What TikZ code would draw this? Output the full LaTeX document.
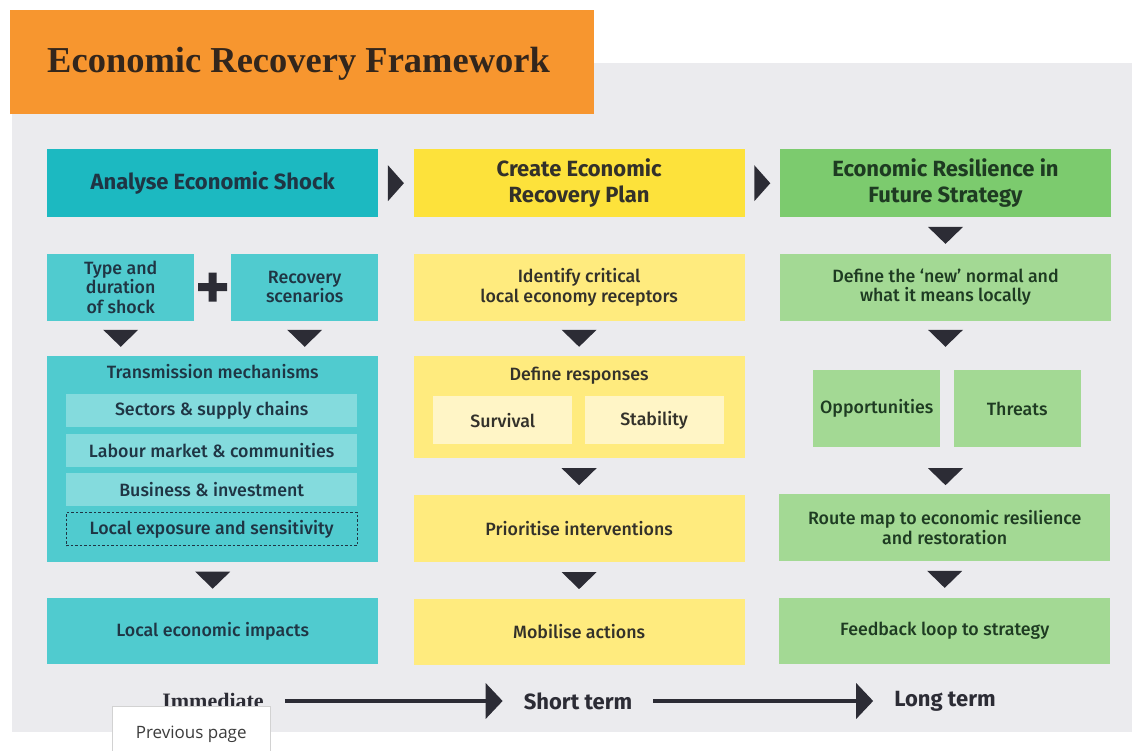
\documentclass[tikz,border=0pt]{standalone}
\usepackage{fontspec}
\setmainfont{Fira Sans}
\newfontfamily\medfont{Fira Sans Medium}
\newfontfamily\titlefont{Liberation Serif}
\newfontfamily\tipfont{Open Sans}
\usetikzlibrary{arrows.meta, positioning, calc}

\definecolor{orangeC}{HTML}{F7962F}
\definecolor{panelC}{HTML}{EBEBEE}
\definecolor{titleC}{HTML}{33261C}
\definecolor{triC}{HTML}{2C2C35}
\definecolor{tealH}{HTML}{1CB9C1}
\definecolor{tealM}{HTML}{50CBCF}
\definecolor{tealL}{HTML}{84DBDD}
\definecolor{tealT}{HTML}{1F3544}
\definecolor{yelH}{HTML}{FDE23B}
\definecolor{yelM}{HTML}{FFEB7E}
\definecolor{yelL}{HTML}{FFF5C6}
\definecolor{yelT}{HTML}{33312A}
\definecolor{grnH}{HTML}{7CCB6E}
\definecolor{grnM}{HTML}{A3D994}
\definecolor{grnT}{HTML}{1E3B22}
\definecolor{tipB}{HTML}{D2D2D2}
\definecolor{tipT}{HTML}{3C3C3C}

\newcommand\hdfont{\bfseries\fontsize{22}{26}\selectfont}
\newcommand\bdfont{\medfont\fontsize{17.8}{19.5}\selectfont}

\tikzset{>=Triangle}

\begin{document}
\begin{tikzpicture}[x=1pt, y=-1pt,
			box/.style={rectangle, inner sep=0pt, align=center,
				font=\bdfont, minimum width=331pt},
			head/.style={box, font=\hdfont, minimum height=68pt},
			row/.style={box, minimum height=67pt},
			half/.style={box, minimum width=147pt, minimum height=67pt},
			strip/.style={box, minimum width=291pt, minimum height=33pt},
			cell/.style={box, minimum width=139pt, minimum height=48pt},
			sq/.style={box, minimum width=127pt, minimum height=77pt},
			teal/.style={fill=tealM, text=tealT},
			yel/.style={fill=yelM, text=yelT},
			grn/.style={fill=grnM, text=grnT},
			time/.style={inner sep=0pt, font=\bfseries\fontsize{22}{26}\selectfont,
				text=triC},
			timeline/.style={line width=4pt, draw=triC,
				-{Triangle[width=35pt, length=17pt]}, shorten <=21pt, shorten >=21pt}]

		% page and panel
		\fill[white] (0,0) rectangle (1132,751);
		\useasboundingbox (0,0) rectangle (1132,751);
		\fill[panelC] (12,63) rectangle (1132,732);

		% title
		\fill[orangeC] (10,10) rectangle (594,114);
		\node[anchor=base west, inner sep=0pt, text=titleC,
			font=\titlefont\bfseries\fontsize{36.5}{40}\selectfont] (title) at (47,73)
			{Economic Recovery Framework};

		% analyse column
		\node[head, fill=tealH, text=tealT, anchor=north west] (shock) at (47,149)
			{Analyse Economic Shock};
		\node[half, teal, below right=36pt and 0pt of shock.south west] (typ)
			{Type and\\duration\\of shock};
		\node[half, teal, below left=36pt and 0pt of shock.south east] (rec)
			{Recovery\\scenarios};
		\node[box, teal, minimum height=206pt,
			below right=35pt and 0pt of typ.south west] (trans) {};
		\node[box, text=tealT, minimum width=0pt] (transT) at ($(trans.north)+(0,16)$)
			{Transmission mechanisms};
		\node[strip, fill=tealL, text=tealT, anchor=north west] (sect) at (66,394)
			{Sectors \& supply chains};
		\node[strip, fill=tealL, text=tealT, below=6pt of sect] (lab)
			{Labour market \& communities};
		\node[strip, fill=tealL, text=tealT, below=6pt of lab] (bus)
			{Business \& investment};
		\node[strip, text=tealT, draw=tealT, line width=1pt,
			dash pattern=on 2.5pt off 2pt, below=6pt of bus] (expo)
			{Local exposure and sensitivity};
		\node[box, teal, minimum height=66pt,
			below right=36pt and 0pt of trans.south west] (impact)
			{Local economic impacts};

		% plan column
		\node[head, fill=yelH, text=yelT, right=35pt of shock] (plan)
			{Create Economic\\Recovery Plan};
		\node[row, yel, below=36pt of plan] (ident)
			{Identify critical\\local economy receptors};
		\node[box, yel, minimum height=102pt, below=35pt of ident] (resp) {};
		\node[box, text=yelT, minimum width=0pt] (respT) at ($(resp.north)+(0,20)$)
			{Define responses};
		\node[cell, fill=yelL, text=yelT, anchor=north west] (surv) at (433,396)
			{Survival};
		\node[cell, fill=yelL, text=yelT, right=12pt of surv] (stab) {Stability};
		\node[row, yel, below=37pt of resp] (prio) {Prioritise interventions};
		\node[box, yel, minimum height=66pt, below=36pt of prio] (mob)
			{Mobilise actions};

		% resilience column
		\node[head, fill=grnH, text=grnT, right=35pt of plan] (resil)
			{Economic Resilience in\\Future Strategy};
		\node[row, grn, below=36pt of resil] (newn)
			{Define the ‘new’ normal and\\what it means locally};
		\node[sq, grn, anchor=north west] (opp) at (813,370) {Opportunities};
		\node[sq, grn, right=13pt of opp] (thr) {Threats};
		\node[row, grn, anchor=north west] (route) at (779,494)
			{Route map to economic resilience\\and restoration};
		\node[box, grn, minimum height=66pt, below=36pt of route] (feed)
			{Feedback loop to strategy};

		% the + sign
		\coordinate (plus) at ($(typ.east)!0.5!(rec.west)$);
		\fill[triC] (plus) +(-14.5,-4) rectangle +(14.5,4)
			(plus) +(-4,-14.5) rectangle +(4,14.5);

		% step arrows between headers
		\foreach \a/\b in {shock/plan, plan/resil}
		{
			\coordinate (m) at ($(\a.east)!0.5!(\b.west)$);
			\fill[triC] (m) +(-8,-18) -- +(-8,18) -- +(8,0) -- cycle;
		}

		% downward triangles
		\foreach \c/\a/\b in {typ/typ/trans, rec/rec/trans, trans/trans/impact,
				ident/ident/resp, resp/resp/prio, prio/prio/mob,
				resil/resil/newn, newn/ident/resp, newn/resp/prio, route/route/feed}
		{
			\coordinate (m) at ($(\a.south)!0.5!(\b.north)$);
			\fill[triC] (m -| \c.south) +(-17.5,-8.5) -- +(17.5,-8.5) -- +(0,8.5) -- cycle;
		}

		% time line
		\node[time, font=\titlefont\bfseries\fontsize{22}{26}\selectfont] (imm)
			at (213,701) {Immediate};
		\node[time] (short) at (578,701) {Short term};
		\node[time] (long) at (945,701) {Long term};
		\draw[timeline] (imm.east) -- (short.west);
		\draw[timeline] (short.east) -- (long.west);

		% tooltip
		\node[draw=tipB, fill=white, anchor=north west, inner sep=0pt,
			minimum width=158pt, minimum height=56pt, text=tipT,
			font=\tipfont\fontsize{17}{20}\selectfont] (tip) at (112,706)
			{Previous page};
	\end{tikzpicture}
\end{document}
